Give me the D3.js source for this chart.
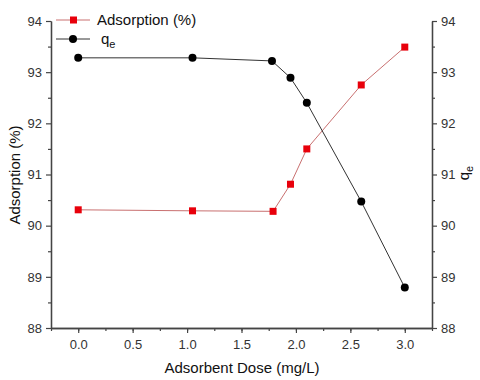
<!DOCTYPE html>
<html>
<head>
<meta charset="utf-8">
<script src="https://cdn.jsdelivr.net/npm/d3@7"></script>
<style>
  body { margin: 0; background: #fff; }
  svg text { font-family: Arial, "Liberation Sans", sans-serif; }
</style>
</head>
<body>
<div id="chartDiv"></div>
<script>
// data
var doses = [0.0, 1.05, 1.79, 1.95, 2.10, 2.60, 3.0];
var adsorption = [90.31, 90.29, 90.28, 90.81, 91.50, 92.75, 93.49];
var qeDoses = [0.0, 1.05, 1.78, 1.95, 2.10, 2.60, 3.0];
var qe = [93.28, 93.28, 93.22, 92.89, 92.40, 90.47, 88.79];
var xTicks = [0.0, 0.5, 1.0, 1.5, 2.0, 2.5, 3.0];
var yTicks = [88, 89, 90, 91, 92, 93, 94];

var width = 480, height = 380;
var plot = { left: 51, right: 432, top: 21, bottom: 328 };

var svg = d3.select("#chartDiv").append("svg")
  .attr("width", width)
  .attr("height", height);

var xScale = d3.scaleLinear().domain([-0.25, 3.25]).range([plot.left, plot.right]);
var yScale = d3.scaleLinear().domain([88, 94]).range([plot.bottom, plot.top]);

// x axis (major + minor ticks)
var xAxis = d3.axisBottom(xScale).tickValues(xTicks).tickFormat(d3.format(".1f"))
  .tickSize(5).tickSizeOuter(0).tickPadding(7);
var xMinor = d3.axisBottom(xScale).tickValues(d3.range(-0.25, 3.3, 0.25))
  .tickSize(3).tickSizeOuter(0).tickFormat("");

svg.append("g").attr("transform", "translate(0," + plot.bottom + ")").call(xMinor);
svg.append("g").attr("class", "xaxis").attr("transform", "translate(0," + plot.bottom + ")").call(xAxis);

// left y axis
var yLeft = d3.axisLeft(yScale).tickValues(yTicks).tickFormat(d3.format("d"))
  .tickSize(5).tickSizeOuter(0).tickPadding(4);
var yLeftMinor = d3.axisLeft(yScale).tickValues(d3.range(88.5, 94, 1)).tickSize(3).tickFormat("").tickSizeOuter(0);
svg.append("g").attr("transform", "translate(" + plot.left + ",0)").call(yLeftMinor);
svg.append("g").attr("class", "yaxis").attr("transform", "translate(" + plot.left + ",0)").call(yLeft);

// right y axis
var yRight = d3.axisRight(yScale).tickValues(yTicks).tickFormat(d3.format("d"))
  .tickSize(5).tickSizeOuter(0).tickPadding(4);
var yRightMinor = d3.axisRight(yScale).tickValues(d3.range(88.5, 94, 1)).tickSize(3).tickFormat("").tickSizeOuter(0);
svg.append("g").attr("transform", "translate(" + plot.right + ",0)").call(yRightMinor);
svg.append("g").attr("class", "yaxis").attr("transform", "translate(" + plot.right + ",0)").call(yRight);

svg.selectAll(".domain").attr("stroke", "#444").attr("stroke-width", 1.3);
svg.selectAll(".tick line").attr("stroke", "#444").attr("stroke-width", 1.2);
svg.selectAll(".tick text").style("font-size", "13px").attr("fill", "#333");

// axis titles
svg.append("text")
  .attr("text-anchor", "middle")
  .attr("transform", "translate(" + 242 + "," + 373 + ")")
  .style("font-size", "15px").attr("fill", "#111")
  .text("Adsorbent Dose (mg/L)");

svg.append("text")
  .attr("text-anchor", "middle")
  .attr("transform", "translate(" + 20 + "," + 175 + ") rotate(-90)")
  .style("font-size", "15px").attr("fill", "#111")
  .text("Adsorption (%)");

var qLabel = svg.append("text")
  .attr("text-anchor", "middle")
  .attr("transform", "translate(" + 469 + "," + 173 + ") rotate(-90)")
  .style("font-size", "15px").attr("fill", "#111");
qLabel.append("tspan").text("q");
qLabel.append("tspan").attr("dy", 4).style("font-size", "11px").text("e");

// lines
var line = d3.line().x(function (d) { return xScale(d[0]); }).y(function (d) { return yScale(d[1]); });
var redData = doses.map(function (d, i) { return [d, adsorption[i]]; });
var blackData = qeDoses.map(function (d, i) { return [d, qe[i]]; });

svg.append("path").datum(redData).attr("d", line)
  .attr("fill", "none").attr("stroke", "#c97070").attr("stroke-width", 1);
svg.append("path").datum(blackData).attr("d", line)
  .attr("fill", "none").attr("stroke", "#333").attr("stroke-width", 1);

svg.selectAll(".sq").data(redData).enter().append("rect")
  .attr("class", "sq")
  .attr("x", function (d) { return xScale(d[0]) - 3.5; })
  .attr("y", function (d) { return yScale(d[1]) - 3.5; })
  .attr("width", 7).attr("height", 7)
  .attr("fill", "#e8000b");

svg.selectAll(".dot").data(blackData).enter().append("circle")
  .attr("class", "dot")
  .attr("cx", function (d) { return xScale(d[0]); })
  .attr("cy", function (d) { return yScale(d[1]); })
  .attr("r", 4)
  .attr("fill", "#000");

// legend
var leg = svg.append("g").attr("transform", "translate(56,0)");
leg.append("line").attr("x1", 0).attr("x2", 34).attr("y1", 20).attr("y2", 20)
  .attr("stroke", "#c97070").attr("stroke-width", 1);
leg.append("rect").attr("x", 14).attr("y", 16.5).attr("width", 7).attr("height", 7).attr("fill", "#e8000b");
leg.append("text").attr("x", 41).attr("y", 25).style("font-size", "15px").attr("fill", "#111").text("Adsorption (%)");

leg.append("line").attr("x1", 0).attr("x2", 34).attr("y1", 39).attr("y2", 39)
  .attr("stroke", "#333").attr("stroke-width", 1);
leg.append("circle").attr("cx", 17).attr("cy", 39).attr("r", 4).attr("fill", "#000");
var lq = leg.append("text").attr("x", 45).attr("y", 44).style("font-size", "15px").attr("fill", "#111");
lq.append("tspan").text("q");
lq.append("tspan").attr("dy", 4).style("font-size", "11px").text("e");
</script>
</body>
</html>
